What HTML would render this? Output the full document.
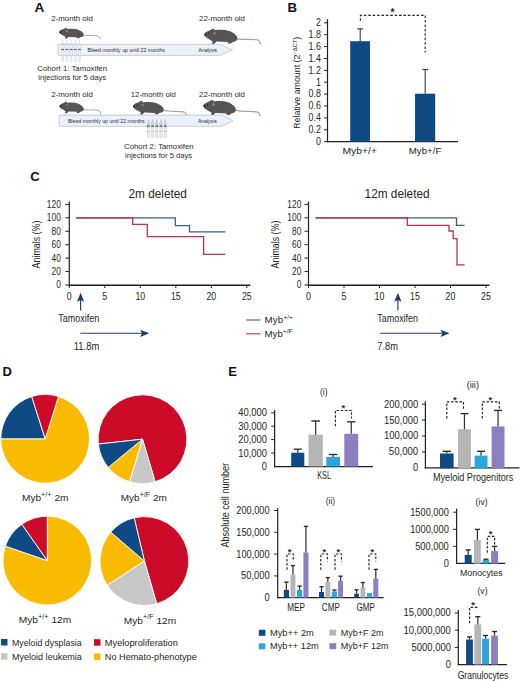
<!DOCTYPE html>
<html><head><meta charset="utf-8"><style>
html,body{margin:0;padding:0;background:#fff;}
body{width:520px;height:681px;overflow:hidden;}
svg{display:block;font-family:"Liberation Sans", sans-serif;}
</style></head><body>
<svg width="520" height="681" viewBox="0 0 520 681">
<rect width="520" height="681" fill="#fff"/>
<text x="34.40" y="11.70" font-size="13.6" text-anchor="start" fill="#111" font-weight="bold" >A</text>
<text x="51.20" y="21.00" font-size="8" text-anchor="start" fill="#2a2a2a" font-weight="normal" textLength="41.70" lengthAdjust="spacingAndGlyphs" >2-month old</text>
<text x="199.00" y="21.20" font-size="8" text-anchor="start" fill="#2a2a2a" font-weight="normal" textLength="46.00" lengthAdjust="spacingAndGlyphs" >22-month old</text>
<path d="M83.06,35.14 C88.21,35.80 94.20,35.10 98.00,36.10 Q100.20,37.10 100.20,38.90" fill="none" stroke="#b29c9c" stroke-width="0.95" stroke-linecap="round"/>
<path d="M59.30,31.78 C59.54,30.73 60.77,29.89 62.73,29.36 C63.71,29.05 64.44,28.42 65.42,28.00 C66.41,27.79 67.14,28.42 67.14,29.05 C70.33,28.63 74.49,28.52 77.67,29.57 C80.86,30.62 83.31,32.41 83.80,34.51 C83.80,36.19 82.57,37.03 80.37,37.24 L78.90,38.29 L76.69,38.29 L76.69,37.24 L68.12,36.92 L66.89,38.50 L64.69,38.50 L65.42,36.82 C64.20,35.98 62.73,35.35 61.26,34.51 C60.03,33.88 59.30,32.83 59.30,31.78 Z" fill="#585354" stroke="none" stroke-width="1" />
<ellipse cx="66.89" cy="31.15" rx="0.86" ry="1.05" fill="#8a8384"/>
<circle cx="60.03" cy="32.20" r="0.86" fill="#2a2727"/>
<circle cx="62.48" cy="31.15" r="0.49" fill="#1c1a1a"/>
<ellipse cx="74.49" cy="33.25" rx="4.90" ry="2.31" fill="#5a5556" opacity="0.6"/>
<path d="M236.50,38.90 C243.64,39.70 254.30,39.00 258.10,40.00 Q260.30,41.00 260.30,44.30" fill="none" stroke="#b29c9c" stroke-width="1.14" stroke-linecap="round"/>
<path d="M204.30,34.10 C204.63,32.60 206.29,31.40 208.95,30.65 C210.28,30.20 211.27,29.30 212.60,28.70 C213.93,28.40 214.92,29.30 214.92,30.20 C219.24,29.60 224.88,29.45 229.20,30.95 C233.52,32.45 236.84,35.00 237.50,38.00 C237.50,40.40 235.84,41.60 232.85,41.90 L230.86,43.40 L227.87,43.40 L227.87,41.90 L216.25,41.45 L214.59,43.70 L211.60,43.70 L212.60,41.30 C210.94,40.10 208.95,39.20 206.96,38.00 C205.30,37.10 204.30,35.60 204.30,34.10 Z" fill="#585354" stroke="none" stroke-width="1" />
<ellipse cx="214.59" cy="33.20" rx="1.16" ry="1.50" fill="#8a8384"/>
<circle cx="205.30" cy="34.70" r="1.16" fill="#2a2727"/>
<circle cx="208.62" cy="33.20" r="0.66" fill="#1c1a1a"/>
<ellipse cx="224.88" cy="36.20" rx="6.64" ry="3.30" fill="#5a5556" opacity="0.6"/>
<path d="M58.00,44.40 H219.50 L232.50,49.90 L219.50,55.40 H58.00 Z" fill="#ecf1f9" stroke="#b3c2da" stroke-width="0.75" />
<line x1="62.70" y1="38.70" x2="62.70" y2="43.80" stroke="#c9ced6" stroke-width="0.5" />
<rect x="61.50" y="43.8" width="2.4" height="11.4" fill="none" stroke="#c3cad6" stroke-width="0.45"/>
<rect x="61.30" y="48.9" width="2.8" height="1.2" fill="#5f6676"/>
<rect x="61.70" y="55.6" width="2.0" height="6.0" fill="#e9eaed" stroke="#d3d5da" stroke-width="0.4"/>
<line x1="66.90" y1="38.70" x2="66.90" y2="43.80" stroke="#c9ced6" stroke-width="0.5" />
<rect x="65.70" y="43.8" width="2.4" height="11.4" fill="none" stroke="#c3cad6" stroke-width="0.45"/>
<rect x="65.50" y="48.9" width="2.8" height="1.2" fill="#5f6676"/>
<rect x="65.90" y="55.6" width="2.0" height="6.0" fill="#e9eaed" stroke="#d3d5da" stroke-width="0.4"/>
<line x1="71.10" y1="38.70" x2="71.10" y2="43.80" stroke="#c9ced6" stroke-width="0.5" />
<rect x="69.90" y="43.8" width="2.4" height="11.4" fill="none" stroke="#c3cad6" stroke-width="0.45"/>
<rect x="69.70" y="48.9" width="2.8" height="1.2" fill="#5f6676"/>
<rect x="70.10" y="55.6" width="2.0" height="6.0" fill="#e9eaed" stroke="#d3d5da" stroke-width="0.4"/>
<line x1="75.30" y1="38.70" x2="75.30" y2="43.80" stroke="#c9ced6" stroke-width="0.5" />
<rect x="74.10" y="43.8" width="2.4" height="11.4" fill="none" stroke="#c3cad6" stroke-width="0.45"/>
<rect x="73.90" y="48.9" width="2.8" height="1.2" fill="#5f6676"/>
<rect x="74.30" y="55.6" width="2.0" height="6.0" fill="#e9eaed" stroke="#d3d5da" stroke-width="0.4"/>
<line x1="79.50" y1="38.70" x2="79.50" y2="43.80" stroke="#c9ced6" stroke-width="0.5" />
<rect x="78.30" y="43.8" width="2.4" height="11.4" fill="none" stroke="#c3cad6" stroke-width="0.45"/>
<rect x="78.10" y="48.9" width="2.8" height="1.2" fill="#5f6676"/>
<rect x="78.50" y="55.6" width="2.0" height="6.0" fill="#e9eaed" stroke="#d3d5da" stroke-width="0.4"/>
<text x="87.50" y="51.60" font-size="5.2" text-anchor="start" fill="#262b36" font-weight="normal" textLength="77.50" lengthAdjust="spacingAndGlyphs" >Bleed monthly up until 22 months</text>
<text x="198.60" y="51.70" font-size="5.2" text-anchor="start" fill="#262b36" font-weight="normal" textLength="18.40" lengthAdjust="spacingAndGlyphs" >Analysis</text>
<text x="37.30" y="71.40" font-size="8" text-anchor="start" fill="#2a2a2a" font-weight="normal" textLength="69.70" lengthAdjust="spacingAndGlyphs" >Cohort 1: Tamoxifen</text>
<text x="38.30" y="80.30" font-size="8" text-anchor="start" fill="#2a2a2a" font-weight="normal" textLength="67.90" lengthAdjust="spacingAndGlyphs" >injections for 5 days</text>
<text x="51.20" y="96.90" font-size="8" text-anchor="start" fill="#2a2a2a" font-weight="normal" textLength="41.70" lengthAdjust="spacingAndGlyphs" >2-month old</text>
<text x="130.70" y="96.90" font-size="8" text-anchor="start" fill="#2a2a2a" font-weight="normal" textLength="45.00" lengthAdjust="spacingAndGlyphs" >12-month old</text>
<text x="199.00" y="97.00" font-size="8" text-anchor="start" fill="#2a2a2a" font-weight="normal" textLength="46.00" lengthAdjust="spacingAndGlyphs" >22-month old</text>
<path d="M83.07,109.55 C88.36,110.30 94.70,109.60 98.50,110.60 Q100.70,111.60 100.70,113.90" fill="none" stroke="#b29c9c" stroke-width="0.95" stroke-linecap="round"/>
<path d="M59.60,105.90 C59.84,104.76 61.05,103.85 62.99,103.28 C63.96,102.94 64.68,102.26 65.65,101.80 C66.62,101.57 67.34,102.26 67.34,102.94 C70.49,102.48 74.60,102.37 77.75,103.51 C80.90,104.65 83.32,106.59 83.80,108.87 C83.80,110.69 82.59,111.60 80.41,111.83 L78.96,112.97 L76.78,112.97 L76.78,111.83 L68.31,111.49 L67.10,113.20 L64.92,113.20 L65.65,111.38 C64.44,110.46 62.99,109.78 61.54,108.87 C60.33,108.18 59.60,107.04 59.60,105.90 Z" fill="#585354" stroke="none" stroke-width="1" />
<ellipse cx="67.10" cy="105.22" rx="0.85" ry="1.14" fill="#8a8384"/>
<circle cx="60.33" cy="106.36" r="0.85" fill="#2a2727"/>
<circle cx="62.75" cy="105.22" r="0.48" fill="#1c1a1a"/>
<ellipse cx="74.60" cy="107.50" rx="4.84" ry="2.51" fill="#5a5556" opacity="0.6"/>
<path d="M162.88,110.21 C169.97,111.70 180.50,111.00 184.30,112.00 Q186.50,113.00 186.50,115.70" fill="none" stroke="#b29c9c" stroke-width="1.14" stroke-linecap="round"/>
<path d="M133.10,105.92 C133.41,104.58 134.94,103.51 137.40,102.84 C138.63,102.44 139.55,101.64 140.78,101.10 C142.00,100.83 142.92,101.64 142.92,102.44 C146.91,101.90 152.13,101.77 156.12,103.11 C160.12,104.45 163.19,106.73 163.80,109.41 C163.80,111.55 162.27,112.62 159.50,112.89 L157.66,114.23 L154.90,114.23 L154.90,112.89 L144.15,112.49 L142.62,114.50 L139.85,114.50 L140.78,112.36 C139.24,111.28 137.40,110.48 135.56,109.41 C134.02,108.60 133.10,107.26 133.10,105.92 Z" fill="#585354" stroke="none" stroke-width="1" />
<ellipse cx="142.62" cy="105.12" rx="1.07" ry="1.34" fill="#8a8384"/>
<circle cx="134.02" cy="106.46" r="1.07" fill="#2a2727"/>
<circle cx="137.09" cy="105.12" r="0.61" fill="#1c1a1a"/>
<ellipse cx="152.13" cy="107.80" rx="6.14" ry="2.95" fill="#5a5556" opacity="0.6"/>
<path d="M235.03,110.34 C242.52,111.80 254.00,111.10 257.80,112.10 Q260.00,113.10 260.00,116.00" fill="none" stroke="#b29c9c" stroke-width="1.14" stroke-linecap="round"/>
<path d="M203.50,105.47 C203.82,103.95 205.45,102.74 208.05,101.98 C209.35,101.52 210.32,100.61 211.62,100.00 C212.93,99.70 213.90,100.61 213.90,101.52 C218.12,100.91 223.65,100.76 227.88,102.28 C232.10,103.80 235.35,106.38 236.00,109.42 C236.00,111.86 234.38,113.07 231.45,113.38 L229.50,114.90 L226.57,114.90 L226.57,113.38 L215.20,112.92 L213.57,115.20 L210.65,115.20 L211.62,112.77 C210.00,111.55 208.05,110.64 206.10,109.42 C204.47,108.51 203.50,106.99 203.50,105.47 Z" fill="#585354" stroke="none" stroke-width="1" />
<ellipse cx="213.57" cy="104.56" rx="1.14" ry="1.52" fill="#8a8384"/>
<circle cx="204.47" cy="106.08" r="1.14" fill="#2a2727"/>
<circle cx="207.72" cy="104.56" r="0.65" fill="#1c1a1a"/>
<ellipse cx="223.65" cy="107.60" rx="6.50" ry="3.34" fill="#5a5556" opacity="0.6"/>
<path d="M59.20,115.10 H221.60 L233.00,120.70 L221.60,126.30 H59.20 Z" fill="#ecf1f9" stroke="#b3c2da" stroke-width="0.75" />
<path d="M148.40,119.6 L149.70,124.8 L147.10,124.8 Z" fill="#dfe6f0" stroke="#9aa6b8" stroke-width="0.45" />
<rect x="147.05" y="125.4" width="2.7" height="1.4" fill="#59606e"/>
<rect x="147.30" y="127.2" width="2.2" height="10.4" fill="#eceef1" stroke="#c2c5cb" stroke-width="0.45"/>
<line x1="147.10" y1="131.50" x2="149.70" y2="131.50" stroke="#b3b7be" stroke-width="0.8" />
<path d="M152.60,119.6 L153.90,124.8 L151.30,124.8 Z" fill="#dfe6f0" stroke="#9aa6b8" stroke-width="0.45" />
<rect x="151.25" y="125.4" width="2.7" height="1.4" fill="#59606e"/>
<rect x="151.50" y="127.2" width="2.2" height="10.4" fill="#eceef1" stroke="#c2c5cb" stroke-width="0.45"/>
<line x1="151.30" y1="131.50" x2="153.90" y2="131.50" stroke="#b3b7be" stroke-width="0.8" />
<path d="M156.80,119.6 L158.10,124.8 L155.50,124.8 Z" fill="#dfe6f0" stroke="#9aa6b8" stroke-width="0.45" />
<rect x="155.45" y="125.4" width="2.7" height="1.4" fill="#59606e"/>
<rect x="155.70" y="127.2" width="2.2" height="10.4" fill="#eceef1" stroke="#c2c5cb" stroke-width="0.45"/>
<line x1="155.50" y1="131.50" x2="158.10" y2="131.50" stroke="#b3b7be" stroke-width="0.8" />
<path d="M161.00,119.6 L162.30,124.8 L159.70,124.8 Z" fill="#dfe6f0" stroke="#9aa6b8" stroke-width="0.45" />
<rect x="159.65" y="125.4" width="2.7" height="1.4" fill="#59606e"/>
<rect x="159.90" y="127.2" width="2.2" height="10.4" fill="#eceef1" stroke="#c2c5cb" stroke-width="0.45"/>
<line x1="159.70" y1="131.50" x2="162.30" y2="131.50" stroke="#b3b7be" stroke-width="0.8" />
<path d="M165.20,119.6 L166.50,124.8 L163.90,124.8 Z" fill="#dfe6f0" stroke="#9aa6b8" stroke-width="0.45" />
<rect x="163.85" y="125.4" width="2.7" height="1.4" fill="#59606e"/>
<rect x="164.10" y="127.2" width="2.2" height="10.4" fill="#eceef1" stroke="#c2c5cb" stroke-width="0.45"/>
<line x1="163.90" y1="131.50" x2="166.50" y2="131.50" stroke="#b3b7be" stroke-width="0.8" />
<text x="67.90" y="123.30" font-size="5.2" text-anchor="start" fill="#262b36" font-weight="normal" textLength="76.70" lengthAdjust="spacingAndGlyphs" >Bleed monthly up until 22 months</text>
<text x="198.00" y="123.20" font-size="5.2" text-anchor="start" fill="#262b36" font-weight="normal" textLength="18.80" lengthAdjust="spacingAndGlyphs" >Analysis</text>
<text x="124.00" y="149.00" font-size="8" text-anchor="start" fill="#2a2a2a" font-weight="normal" textLength="69.70" lengthAdjust="spacingAndGlyphs" >Cohort 2: Tamoxifen</text>
<text x="125.00" y="158.00" font-size="8" text-anchor="start" fill="#2a2a2a" font-weight="normal" textLength="67.00" lengthAdjust="spacingAndGlyphs" >injections for 5 days</text>
<text x="287.50" y="11.70" font-size="13.2" text-anchor="start" fill="#111" font-weight="bold" >B</text>
<line x1="327.50" y1="19.30" x2="327.50" y2="142.20" stroke="#231f20" stroke-width="1.2" />
<line x1="326.90" y1="141.60" x2="458.00" y2="141.60" stroke="#231f20" stroke-width="1.2" />
<line x1="324.00" y1="141.60" x2="327.50" y2="141.60" stroke="#231f20" stroke-width="1.0" />
<text x="320.90" y="145.00" font-size="10" text-anchor="end" fill="#231f20" font-weight="normal" textLength="4.95" lengthAdjust="spacingAndGlyphs" >0</text>
<line x1="324.00" y1="129.72" x2="327.50" y2="129.72" stroke="#231f20" stroke-width="1.0" />
<text x="320.90" y="133.12" font-size="10" text-anchor="end" fill="#231f20" font-weight="normal" textLength="12.37" lengthAdjust="spacingAndGlyphs" >0.2</text>
<line x1="324.00" y1="117.84" x2="327.50" y2="117.84" stroke="#231f20" stroke-width="1.0" />
<text x="320.90" y="121.24" font-size="10" text-anchor="end" fill="#231f20" font-weight="normal" textLength="12.37" lengthAdjust="spacingAndGlyphs" >0.4</text>
<line x1="324.00" y1="105.96" x2="327.50" y2="105.96" stroke="#231f20" stroke-width="1.0" />
<text x="320.90" y="109.36" font-size="10" text-anchor="end" fill="#231f20" font-weight="normal" textLength="12.37" lengthAdjust="spacingAndGlyphs" >0.6</text>
<line x1="324.00" y1="94.08" x2="327.50" y2="94.08" stroke="#231f20" stroke-width="1.0" />
<text x="320.90" y="97.48" font-size="10" text-anchor="end" fill="#231f20" font-weight="normal" textLength="12.37" lengthAdjust="spacingAndGlyphs" >0.8</text>
<line x1="324.00" y1="82.20" x2="327.50" y2="82.20" stroke="#231f20" stroke-width="1.0" />
<text x="320.90" y="85.60" font-size="10" text-anchor="end" fill="#231f20" font-weight="normal" textLength="4.95" lengthAdjust="spacingAndGlyphs" >1</text>
<line x1="324.00" y1="70.32" x2="327.50" y2="70.32" stroke="#231f20" stroke-width="1.0" />
<text x="320.90" y="73.72" font-size="10" text-anchor="end" fill="#231f20" font-weight="normal" textLength="12.37" lengthAdjust="spacingAndGlyphs" >1.2</text>
<line x1="324.00" y1="58.44" x2="327.50" y2="58.44" stroke="#231f20" stroke-width="1.0" />
<text x="320.90" y="61.84" font-size="10" text-anchor="end" fill="#231f20" font-weight="normal" textLength="12.37" lengthAdjust="spacingAndGlyphs" >1.4</text>
<line x1="324.00" y1="46.56" x2="327.50" y2="46.56" stroke="#231f20" stroke-width="1.0" />
<text x="320.90" y="49.96" font-size="10" text-anchor="end" fill="#231f20" font-weight="normal" textLength="12.37" lengthAdjust="spacingAndGlyphs" >1.6</text>
<line x1="324.00" y1="34.68" x2="327.50" y2="34.68" stroke="#231f20" stroke-width="1.0" />
<text x="320.90" y="38.08" font-size="10" text-anchor="end" fill="#231f20" font-weight="normal" textLength="12.37" lengthAdjust="spacingAndGlyphs" >1.8</text>
<line x1="324.00" y1="22.80" x2="327.50" y2="22.80" stroke="#231f20" stroke-width="1.0" />
<text x="320.90" y="26.20" font-size="10" text-anchor="end" fill="#231f20" font-weight="normal" textLength="4.95" lengthAdjust="spacingAndGlyphs" >2</text>
<rect x="350.20" y="41.21" width="19.80" height="100.39" fill="#104a84" />
<line x1="360.20" y1="41.21" x2="360.20" y2="28.90" stroke="#3a3a3a" stroke-width="1.1" />
<line x1="357.20" y1="28.90" x2="363.00" y2="28.90" stroke="#3a3a3a" stroke-width="1.2" />
<rect x="415.00" y="93.70" width="20.20" height="47.90" fill="#104a84" />
<line x1="425.20" y1="93.70" x2="425.20" y2="69.50" stroke="#3a3a3a" stroke-width="1.1" />
<line x1="422.30" y1="69.50" x2="428.10" y2="69.50" stroke="#3a3a3a" stroke-width="1.2" />
<path d="M360.4,20.8 V15.4 H425.2 V52.5" fill="none" stroke="#2a2a2a" stroke-width="1.15" stroke-dasharray="2.6,1.8"/>
<text x="392.60" y="16.28" font-size="10.5" text-anchor="middle" fill="#2a2a2a" font-weight="bold" >*</text>
<text x="342.50" y="153.80" font-size="9" text-anchor="start" fill="#231f20" font-weight="normal" textLength="34.50" lengthAdjust="spacingAndGlyphs" >Myb+/+</text>
<text x="408.80" y="153.80" font-size="9" text-anchor="start" fill="#231f20" font-weight="normal" textLength="32.50" lengthAdjust="spacingAndGlyphs" >Myb+/F</text>
<text transform="translate(300.3,128.8) rotate(-90)" font-size="9.6" fill="#231f20" textLength="92" lengthAdjust="spacingAndGlyphs">Relative amount (2<tspan dy="-3.2" font-size="6.2">−ΔCT</tspan><tspan dy="3.2">)</tspan></text>
<text x="30.20" y="180.60" font-size="13.2" text-anchor="start" fill="#111" font-weight="bold" >C</text>
<line x1="69.30" y1="201.50" x2="69.30" y2="285.60" stroke="#231f20" stroke-width="1.2" />
<line x1="68.70" y1="285.15" x2="250.30" y2="285.15" stroke="#231f20" stroke-width="1.45" />
<line x1="65.30" y1="285.00" x2="69.30" y2="285.00" stroke="#231f20" stroke-width="1.0" />
<text x="60.80" y="288.40" font-size="10" text-anchor="end" fill="#231f20" font-weight="normal" textLength="4.64" lengthAdjust="spacingAndGlyphs" >0</text>
<line x1="65.30" y1="271.57" x2="69.30" y2="271.57" stroke="#231f20" stroke-width="1.0" />
<text x="60.80" y="274.97" font-size="10" text-anchor="end" fill="#231f20" font-weight="normal" textLength="9.29" lengthAdjust="spacingAndGlyphs" >20</text>
<line x1="65.30" y1="258.13" x2="69.30" y2="258.13" stroke="#231f20" stroke-width="1.0" />
<text x="60.80" y="261.53" font-size="10" text-anchor="end" fill="#231f20" font-weight="normal" textLength="9.29" lengthAdjust="spacingAndGlyphs" >40</text>
<line x1="65.30" y1="244.70" x2="69.30" y2="244.70" stroke="#231f20" stroke-width="1.0" />
<text x="60.80" y="248.10" font-size="10" text-anchor="end" fill="#231f20" font-weight="normal" textLength="9.29" lengthAdjust="spacingAndGlyphs" >60</text>
<line x1="65.30" y1="231.26" x2="69.30" y2="231.26" stroke="#231f20" stroke-width="1.0" />
<text x="60.80" y="234.66" font-size="10" text-anchor="end" fill="#231f20" font-weight="normal" textLength="9.29" lengthAdjust="spacingAndGlyphs" >80</text>
<line x1="65.30" y1="217.83" x2="69.30" y2="217.83" stroke="#231f20" stroke-width="1.0" />
<text x="60.80" y="221.23" font-size="10" text-anchor="end" fill="#231f20" font-weight="normal" textLength="13.93" lengthAdjust="spacingAndGlyphs" >100</text>
<line x1="65.30" y1="204.40" x2="69.30" y2="204.40" stroke="#231f20" stroke-width="1.0" />
<text x="60.80" y="207.80" font-size="10" text-anchor="end" fill="#231f20" font-weight="normal" textLength="13.93" lengthAdjust="spacingAndGlyphs" >120</text>
<line x1="69.30" y1="285.00" x2="69.30" y2="288.00" stroke="#231f20" stroke-width="1.0" />
<text x="69.30" y="300.40" font-size="10" text-anchor="middle" fill="#231f20" font-weight="normal" textLength="4.89" lengthAdjust="spacingAndGlyphs" >0</text>
<line x1="104.80" y1="285.00" x2="104.80" y2="288.00" stroke="#231f20" stroke-width="1.0" />
<text x="104.80" y="300.40" font-size="10" text-anchor="middle" fill="#231f20" font-weight="normal" textLength="4.89" lengthAdjust="spacingAndGlyphs" >5</text>
<line x1="140.30" y1="285.00" x2="140.30" y2="288.00" stroke="#231f20" stroke-width="1.0" />
<text x="140.30" y="300.40" font-size="10" text-anchor="middle" fill="#231f20" font-weight="normal" textLength="9.79" lengthAdjust="spacingAndGlyphs" >10</text>
<line x1="175.80" y1="285.00" x2="175.80" y2="288.00" stroke="#231f20" stroke-width="1.0" />
<text x="175.80" y="300.40" font-size="10" text-anchor="middle" fill="#231f20" font-weight="normal" textLength="9.79" lengthAdjust="spacingAndGlyphs" >15</text>
<line x1="211.30" y1="285.00" x2="211.30" y2="288.00" stroke="#231f20" stroke-width="1.0" />
<text x="211.30" y="300.40" font-size="10" text-anchor="middle" fill="#231f20" font-weight="normal" textLength="9.79" lengthAdjust="spacingAndGlyphs" >20</text>
<line x1="246.80" y1="285.00" x2="246.80" y2="288.00" stroke="#231f20" stroke-width="1.0" />
<text x="246.80" y="300.40" font-size="10" text-anchor="middle" fill="#231f20" font-weight="normal" textLength="9.79" lengthAdjust="spacingAndGlyphs" >25</text>
<text x="128.50" y="197.60" font-size="12" text-anchor="start" fill="#231f20" font-weight="normal" textLength="58.40" lengthAdjust="spacingAndGlyphs" >2m deleted</text>
<text transform="translate(39.80,268.4) rotate(-90)" font-size="10" fill="#231f20" textLength="47.8" lengthAdjust="spacingAndGlyphs">Animals (%)</text>
<line x1="308.50" y1="201.50" x2="308.50" y2="285.60" stroke="#231f20" stroke-width="1.2" />
<line x1="307.90" y1="285.15" x2="489.50" y2="285.15" stroke="#231f20" stroke-width="1.45" />
<line x1="304.50" y1="285.00" x2="308.50" y2="285.00" stroke="#231f20" stroke-width="1.0" />
<text x="301.30" y="288.40" font-size="10" text-anchor="end" fill="#231f20" font-weight="normal" textLength="4.64" lengthAdjust="spacingAndGlyphs" >0</text>
<line x1="304.50" y1="271.57" x2="308.50" y2="271.57" stroke="#231f20" stroke-width="1.0" />
<text x="301.30" y="274.97" font-size="10" text-anchor="end" fill="#231f20" font-weight="normal" textLength="9.29" lengthAdjust="spacingAndGlyphs" >20</text>
<line x1="304.50" y1="258.13" x2="308.50" y2="258.13" stroke="#231f20" stroke-width="1.0" />
<text x="301.30" y="261.53" font-size="10" text-anchor="end" fill="#231f20" font-weight="normal" textLength="9.29" lengthAdjust="spacingAndGlyphs" >40</text>
<line x1="304.50" y1="244.70" x2="308.50" y2="244.70" stroke="#231f20" stroke-width="1.0" />
<text x="301.30" y="248.10" font-size="10" text-anchor="end" fill="#231f20" font-weight="normal" textLength="9.29" lengthAdjust="spacingAndGlyphs" >60</text>
<line x1="304.50" y1="231.26" x2="308.50" y2="231.26" stroke="#231f20" stroke-width="1.0" />
<text x="301.30" y="234.66" font-size="10" text-anchor="end" fill="#231f20" font-weight="normal" textLength="9.29" lengthAdjust="spacingAndGlyphs" >80</text>
<line x1="304.50" y1="217.83" x2="308.50" y2="217.83" stroke="#231f20" stroke-width="1.0" />
<text x="301.30" y="221.23" font-size="10" text-anchor="end" fill="#231f20" font-weight="normal" textLength="13.93" lengthAdjust="spacingAndGlyphs" >100</text>
<line x1="304.50" y1="204.40" x2="308.50" y2="204.40" stroke="#231f20" stroke-width="1.0" />
<text x="301.30" y="207.80" font-size="10" text-anchor="end" fill="#231f20" font-weight="normal" textLength="13.93" lengthAdjust="spacingAndGlyphs" >120</text>
<line x1="308.50" y1="285.00" x2="308.50" y2="288.00" stroke="#231f20" stroke-width="1.0" />
<text x="308.50" y="300.40" font-size="10" text-anchor="middle" fill="#231f20" font-weight="normal" textLength="4.89" lengthAdjust="spacingAndGlyphs" >0</text>
<line x1="344.00" y1="285.00" x2="344.00" y2="288.00" stroke="#231f20" stroke-width="1.0" />
<text x="344.00" y="300.40" font-size="10" text-anchor="middle" fill="#231f20" font-weight="normal" textLength="4.89" lengthAdjust="spacingAndGlyphs" >5</text>
<line x1="379.50" y1="285.00" x2="379.50" y2="288.00" stroke="#231f20" stroke-width="1.0" />
<text x="379.50" y="300.40" font-size="10" text-anchor="middle" fill="#231f20" font-weight="normal" textLength="9.79" lengthAdjust="spacingAndGlyphs" >10</text>
<line x1="415.00" y1="285.00" x2="415.00" y2="288.00" stroke="#231f20" stroke-width="1.0" />
<text x="415.00" y="300.40" font-size="10" text-anchor="middle" fill="#231f20" font-weight="normal" textLength="9.79" lengthAdjust="spacingAndGlyphs" >15</text>
<line x1="450.50" y1="285.00" x2="450.50" y2="288.00" stroke="#231f20" stroke-width="1.0" />
<text x="450.50" y="300.40" font-size="10" text-anchor="middle" fill="#231f20" font-weight="normal" textLength="9.79" lengthAdjust="spacingAndGlyphs" >20</text>
<line x1="486.00" y1="285.00" x2="486.00" y2="288.00" stroke="#231f20" stroke-width="1.0" />
<text x="486.00" y="300.40" font-size="10" text-anchor="middle" fill="#231f20" font-weight="normal" textLength="9.79" lengthAdjust="spacingAndGlyphs" >25</text>
<text x="364.60" y="197.60" font-size="12" text-anchor="start" fill="#231f20" font-weight="normal" textLength="65.00" lengthAdjust="spacingAndGlyphs" >12m deleted</text>
<text transform="translate(279.00,268.4) rotate(-90)" font-size="10" fill="#231f20" textLength="47.8" lengthAdjust="spacingAndGlyphs">Animals (%)</text>
<path d="M75.9,217.8 H175.3 V225.6 H189.5 V231.8 H225.3" fill="none" stroke="#3a5f88" stroke-width="1.3" />
<path d="M75.9,217.8 H132.7 V224.3 H147.3 V236.7 H203.6 V254.4 H225.3" fill="none" stroke="#bb3150" stroke-width="1.3" />
<path d="M315.6,217.8 H456.5 V225.3 H464.6" fill="none" stroke="#3a5f88" stroke-width="1.3" />
<path d="M315.6,217.8 H407.3 V225.4 H449.0 V231.0 H453.2 V238.6 H457.0 V264.9 H464.6" fill="none" stroke="#bb3150" stroke-width="1.3" />
<line x1="80.60" y1="310.50" x2="80.60" y2="297.80" stroke="#1a4068" stroke-width="1.15" />
<path d="M80.60,292.80 L84.20,301.80 L80.60,300.00 L77.00,301.80 Z" fill="#1a4068" stroke="none" stroke-width="1" />
<line x1="80.30" y1="333.30" x2="144.20" y2="333.30" stroke="#1a4068" stroke-width="1.1" />
<path d="M149.20,333.30 L140.20,329.70 L142.00,333.30 L140.20,336.90 Z" fill="#1a4068" stroke="none" stroke-width="1" />
<text x="58.20" y="321.80" font-size="10.6" text-anchor="start" fill="#231f20" font-weight="normal" textLength="41.20" lengthAdjust="spacingAndGlyphs" >Tamoxifen</text>
<text x="73.80" y="350.20" font-size="11.6" text-anchor="start" fill="#231f20" font-weight="normal" textLength="25.60" lengthAdjust="spacingAndGlyphs" >11.8m</text>
<line x1="397.90" y1="310.50" x2="397.90" y2="297.80" stroke="#1a4068" stroke-width="1.15" />
<path d="M397.90,292.80 L401.50,301.80 L397.90,300.00 L394.30,301.80 Z" fill="#1a4068" stroke="none" stroke-width="1" />
<line x1="380.20" y1="333.30" x2="444.60" y2="333.30" stroke="#1a4068" stroke-width="1.1" />
<path d="M449.60,333.30 L440.60,329.70 L442.40,333.30 L440.60,336.90 Z" fill="#1a4068" stroke="none" stroke-width="1" />
<text x="377.30" y="321.90" font-size="10.6" text-anchor="start" fill="#231f20" font-weight="normal" textLength="40.70" lengthAdjust="spacingAndGlyphs" >Tamoxifen</text>
<text x="377.30" y="349.70" font-size="11.6" text-anchor="start" fill="#231f20" font-weight="normal" textLength="20.60" lengthAdjust="spacingAndGlyphs" >7.8m</text>
<line x1="246.20" y1="320.00" x2="260.50" y2="320.00" stroke="#3a5f88" stroke-width="1.1" />
<line x1="246.20" y1="333.80" x2="260.50" y2="333.80" stroke="#bb3150" stroke-width="1.1" />
<text x="264.6" y="322.9" font-size="8.4" fill="#231f20" textLength="28.4" lengthAdjust="spacingAndGlyphs">Myb<tspan dy="-4" font-size="5.8">+/+</tspan></text>
<text x="264.6" y="337.0" font-size="8.4" fill="#231f20" textLength="28.0" lengthAdjust="spacingAndGlyphs">Myb<tspan dy="-4" font-size="5.8">+/F</tspan></text>
<text x="2.60" y="375.60" font-size="13" text-anchor="start" fill="#111" font-weight="bold" >D</text>
<path d="M45.20,438.80 L58.55,396.45 A44.4,44.4 0 1 1 0.80,438.80 Z" fill="#f8bb00" stroke="#fff" stroke-width="0.9" stroke-linejoin="round"/>
<path d="M45.20,438.80 L0.80,438.80 A44.4,44.4 0 0 1 31.70,396.50 Z" fill="#0f4a86" stroke="#fff" stroke-width="0.9" stroke-linejoin="round"/>
<path d="M45.20,438.80 L31.70,396.50 A44.4,44.4 0 0 1 58.55,396.45 Z" fill="#cc0b28" stroke="#fff" stroke-width="0.9" stroke-linejoin="round"/>
<path d="M142.50,439.20 L98.37,444.07 A44.4,44.4 0 1 1 155.11,481.77 Z" fill="#cc0b28" stroke="#fff" stroke-width="0.9" stroke-linejoin="round"/>
<path d="M142.50,439.20 L155.11,481.77 A44.4,44.4 0 0 1 129.52,481.66 Z" fill="#c7c7c7" stroke="#fff" stroke-width="0.9" stroke-linejoin="round"/>
<path d="M142.50,439.20 L129.52,481.66 A44.4,44.4 0 0 1 108.24,467.44 Z" fill="#f8bb00" stroke="#fff" stroke-width="0.9" stroke-linejoin="round"/>
<path d="M142.50,439.20 L108.24,467.44 A44.4,44.4 0 0 1 98.37,444.07 Z" fill="#0f4a86" stroke="#fff" stroke-width="0.9" stroke-linejoin="round"/>
<path d="M47.30,560.60 L47.30,516.20 A44.4,44.4 0 1 1 5.32,546.14 Z" fill="#f8bb00" stroke="#fff" stroke-width="0.9" stroke-linejoin="round"/>
<path d="M47.30,560.60 L5.32,546.14 A44.4,44.4 0 0 1 21.83,524.23 Z" fill="#0f4a86" stroke="#fff" stroke-width="0.9" stroke-linejoin="round"/>
<path d="M47.30,560.60 L21.83,524.23 A44.4,44.4 0 0 1 47.30,516.20 Z" fill="#cc0b28" stroke="#fff" stroke-width="0.9" stroke-linejoin="round"/>
<path d="M144.40,561.00 L134.19,517.79 A44.4,44.4 0 0 1 156.64,603.68 Z" fill="#cc0b28" stroke="#fff" stroke-width="0.9" stroke-linejoin="round"/>
<path d="M144.40,561.00 L156.64,603.68 A44.4,44.4 0 0 1 107.16,585.18 Z" fill="#c7c7c7" stroke="#fff" stroke-width="0.9" stroke-linejoin="round"/>
<path d="M144.40,561.00 L107.16,585.18 A44.4,44.4 0 0 1 110.69,532.11 Z" fill="#f8bb00" stroke="#fff" stroke-width="0.9" stroke-linejoin="round"/>
<path d="M144.40,561.00 L110.69,532.11 A44.4,44.4 0 0 1 134.19,517.79 Z" fill="#0f4a86" stroke="#fff" stroke-width="0.9" stroke-linejoin="round"/>
<text x="22.00" y="501.20" font-size="9.2" fill="#231f20" textLength="46.50" lengthAdjust="spacingAndGlyphs">Myb<tspan dy="-4.4" font-size="6.6">+/+</tspan><tspan dy="4.4"> 2m</tspan></text>
<text x="120.80" y="501.20" font-size="9.2" fill="#231f20" textLength="46.10" lengthAdjust="spacingAndGlyphs">Myb<tspan dy="-4.4" font-size="6.6">+/F</tspan><tspan dy="4.4"> 2m</tspan></text>
<text x="18.80" y="623.20" font-size="9.2" fill="#231f20" textLength="52.40" lengthAdjust="spacingAndGlyphs">Myb<tspan dy="-4.4" font-size="6.6">+/+</tspan><tspan dy="4.4"> 12m</tspan></text>
<text x="123.80" y="623.50" font-size="9.2" fill="#231f20" textLength="52.40" lengthAdjust="spacingAndGlyphs">Myb<tspan dy="-4.4" font-size="6.6">+/F</tspan><tspan dy="4.4"> 12m</tspan></text>
<rect x="1.00" y="639.00" width="6.50" height="6.50" fill="#0f4a86" />
<rect x="1.00" y="653.20" width="6.50" height="6.50" fill="#c7c7c7" />
<rect x="94.00" y="639.20" width="6.50" height="6.50" fill="#cc0b28" />
<rect x="94.00" y="653.40" width="6.50" height="6.50" fill="#f8bb00" />
<text x="11.90" y="645.60" font-size="9.5" text-anchor="start" fill="#231f20" font-weight="normal" textLength="69.80" lengthAdjust="spacingAndGlyphs" >Myeloid dysplasia</text>
<text x="11.90" y="659.60" font-size="9.5" text-anchor="start" fill="#231f20" font-weight="normal" textLength="70.00" lengthAdjust="spacingAndGlyphs" >Myeloid leukemia</text>
<text x="104.80" y="645.60" font-size="9.5" text-anchor="start" fill="#231f20" font-weight="normal" textLength="73.00" lengthAdjust="spacingAndGlyphs" >Myeloproliferation</text>
<text x="104.80" y="659.50" font-size="9.5" text-anchor="start" fill="#231f20" font-weight="normal" textLength="92.00" lengthAdjust="spacingAndGlyphs" >No Hemato-phenotype</text>
<text x="228.30" y="375.50" font-size="13" text-anchor="start" fill="#111" font-weight="bold" >E</text>
<text transform="translate(229.3,547.5) rotate(-90)" font-size="10.2" fill="#231f20" textLength="84.6" lengthAdjust="spacingAndGlyphs">Absolute cell number</text>
<text x="320.00" y="394.80" font-size="8.4" text-anchor="start" fill="#231f20" font-weight="normal" textLength="7.60" lengthAdjust="spacingAndGlyphs" >(i)</text>
<line x1="274.60" y1="410.00" x2="274.60" y2="467.20" stroke="#231f20" stroke-width="1.2" />
<line x1="274.00" y1="466.60" x2="373.00" y2="466.60" stroke="#231f20" stroke-width="1.25" />
<line x1="271.10" y1="412.80" x2="274.60" y2="412.80" stroke="#231f20" stroke-width="1.0" />
<text x="267.00" y="416.20" font-size="10" text-anchor="end" fill="#231f20" font-weight="normal" textLength="28.80" lengthAdjust="spacingAndGlyphs" >40,000</text>
<line x1="271.10" y1="426.20" x2="274.60" y2="426.20" stroke="#231f20" stroke-width="1.0" />
<text x="267.00" y="429.60" font-size="10" text-anchor="end" fill="#231f20" font-weight="normal" textLength="28.80" lengthAdjust="spacingAndGlyphs" >30,000</text>
<line x1="271.10" y1="439.60" x2="274.60" y2="439.60" stroke="#231f20" stroke-width="1.0" />
<text x="267.00" y="443.00" font-size="10" text-anchor="end" fill="#231f20" font-weight="normal" textLength="28.80" lengthAdjust="spacingAndGlyphs" >20,000</text>
<line x1="271.10" y1="453.10" x2="274.60" y2="453.10" stroke="#231f20" stroke-width="1.0" />
<text x="267.00" y="456.50" font-size="10" text-anchor="end" fill="#231f20" font-weight="normal" textLength="28.80" lengthAdjust="spacingAndGlyphs" >10,000</text>
<text x="267.00" y="470.00" font-size="10" text-anchor="end" fill="#231f20" font-weight="normal" textLength="5.17" lengthAdjust="spacingAndGlyphs" >0</text>
<rect x="291.20" y="452.70" width="13.10" height="13.80" fill="#104a84" />
<line x1="297.75" y1="452.70" x2="297.75" y2="449.20" stroke="#333" stroke-width="1.25" />
<line x1="293.71" y1="449.20" x2="301.79" y2="449.20" stroke="#2a2a2a" stroke-width="1.35" />
<rect x="308.50" y="434.70" width="14.30" height="31.80" fill="#b5b5b5" />
<line x1="315.65" y1="434.70" x2="315.65" y2="421.00" stroke="#333" stroke-width="1.25" />
<line x1="311.32" y1="421.00" x2="319.98" y2="421.00" stroke="#2a2a2a" stroke-width="1.35" />
<rect x="326.30" y="456.90" width="13.70" height="9.60" fill="#2aa6dc" />
<line x1="333.15" y1="456.90" x2="333.15" y2="454.50" stroke="#333" stroke-width="1.25" />
<line x1="328.96" y1="454.50" x2="337.34" y2="454.50" stroke="#2a2a2a" stroke-width="1.35" />
<rect x="344.30" y="433.80" width="13.90" height="32.70" fill="#8c7ec0" />
<line x1="351.25" y1="433.80" x2="351.25" y2="421.80" stroke="#333" stroke-width="1.25" />
<line x1="347.01" y1="421.80" x2="355.49" y2="421.80" stroke="#2a2a2a" stroke-width="1.35" />
<path d="M335.40,426.20 V410.50 H351.50 V418.50" fill="none" stroke="#222" stroke-width="1.15" stroke-dasharray="2.5,1.7"/>
<text x="343.30" y="410.92" font-size="9.5" text-anchor="middle" fill="#2a2a2a" font-weight="bold" >*</text>
<text x="317.20" y="478.80" font-size="10.2" text-anchor="start" fill="#231f20" font-weight="normal" textLength="13.80" lengthAdjust="spacingAndGlyphs" >KSL</text>
<text x="325.80" y="503.90" font-size="8.4" text-anchor="start" fill="#231f20" font-weight="normal" textLength="9.20" lengthAdjust="spacingAndGlyphs" >(ii)</text>
<line x1="277.70" y1="507.90" x2="277.70" y2="598.30" stroke="#231f20" stroke-width="1.2" />
<line x1="277.10" y1="597.70" x2="383.60" y2="597.70" stroke="#231f20" stroke-width="1.25" />
<line x1="274.20" y1="510.50" x2="277.70" y2="510.50" stroke="#231f20" stroke-width="1.0" />
<text x="269.60" y="513.90" font-size="10" text-anchor="end" fill="#231f20" font-weight="normal" textLength="33.30" lengthAdjust="spacingAndGlyphs" >200,000</text>
<line x1="274.20" y1="532.30" x2="277.70" y2="532.30" stroke="#231f20" stroke-width="1.0" />
<text x="269.60" y="535.70" font-size="10" text-anchor="end" fill="#231f20" font-weight="normal" textLength="33.30" lengthAdjust="spacingAndGlyphs" >150,000</text>
<line x1="274.20" y1="554.10" x2="277.70" y2="554.10" stroke="#231f20" stroke-width="1.0" />
<text x="269.60" y="557.50" font-size="10" text-anchor="end" fill="#231f20" font-weight="normal" textLength="33.30" lengthAdjust="spacingAndGlyphs" >100,000</text>
<line x1="274.20" y1="575.90" x2="277.70" y2="575.90" stroke="#231f20" stroke-width="1.0" />
<text x="269.60" y="579.30" font-size="10" text-anchor="end" fill="#231f20" font-weight="normal" textLength="28.60" lengthAdjust="spacingAndGlyphs" >50,000</text>
<text x="269.60" y="601.10" font-size="10" text-anchor="end" fill="#231f20" font-weight="normal" textLength="5.17" lengthAdjust="spacingAndGlyphs" >0</text>
<rect x="283.80" y="589.90" width="5.20" height="7.70" fill="#104a84" />
<line x1="286.40" y1="589.90" x2="286.40" y2="582.10" stroke="#333" stroke-width="1.25" />
<line x1="284.25" y1="582.10" x2="288.55" y2="582.10" stroke="#2a2a2a" stroke-width="1.35" />
<rect x="290.50" y="574.50" width="4.90" height="23.10" fill="#b5b5b5" />
<line x1="292.95" y1="574.50" x2="292.95" y2="565.60" stroke="#333" stroke-width="1.25" />
<line x1="290.87" y1="565.60" x2="295.03" y2="565.60" stroke="#2a2a2a" stroke-width="1.35" />
<rect x="297.00" y="589.90" width="5.20" height="7.70" fill="#2aa6dc" />
<line x1="299.60" y1="589.90" x2="299.60" y2="586.10" stroke="#333" stroke-width="1.25" />
<line x1="297.45" y1="586.10" x2="301.75" y2="586.10" stroke="#2a2a2a" stroke-width="1.35" />
<rect x="303.40" y="552.50" width="5.10" height="45.10" fill="#8c7ec0" />
<line x1="305.95" y1="552.50" x2="305.95" y2="526.40" stroke="#333" stroke-width="1.25" />
<line x1="303.83" y1="526.40" x2="308.07" y2="526.40" stroke="#2a2a2a" stroke-width="1.35" />
<rect x="319.00" y="592.00" width="5.00" height="5.60" fill="#104a84" />
<line x1="321.50" y1="592.00" x2="321.50" y2="586.70" stroke="#333" stroke-width="1.25" />
<line x1="319.40" y1="586.70" x2="323.60" y2="586.70" stroke="#2a2a2a" stroke-width="1.35" />
<rect x="325.40" y="582.00" width="4.90" height="15.60" fill="#b5b5b5" />
<line x1="327.85" y1="582.00" x2="327.85" y2="577.60" stroke="#333" stroke-width="1.25" />
<line x1="325.77" y1="577.60" x2="329.93" y2="577.60" stroke="#2a2a2a" stroke-width="1.35" />
<rect x="331.80" y="591.60" width="5.20" height="6.00" fill="#2aa6dc" />
<line x1="334.40" y1="591.60" x2="334.40" y2="590.00" stroke="#333" stroke-width="1.25" />
<line x1="332.25" y1="590.00" x2="336.55" y2="590.00" stroke="#2a2a2a" stroke-width="1.35" />
<rect x="338.10" y="580.80" width="4.90" height="16.80" fill="#8c7ec0" />
<line x1="340.55" y1="580.80" x2="340.55" y2="576.20" stroke="#333" stroke-width="1.25" />
<line x1="338.47" y1="576.20" x2="342.63" y2="576.20" stroke="#2a2a2a" stroke-width="1.35" />
<rect x="354.20" y="593.70" width="4.70" height="3.90" fill="#104a84" />
<line x1="356.55" y1="593.70" x2="356.55" y2="589.90" stroke="#333" stroke-width="1.25" />
<line x1="354.52" y1="589.90" x2="358.58" y2="589.90" stroke="#2a2a2a" stroke-width="1.35" />
<rect x="360.50" y="587.40" width="4.70" height="10.20" fill="#b5b5b5" />
<line x1="362.85" y1="587.40" x2="362.85" y2="582.50" stroke="#333" stroke-width="1.25" />
<line x1="360.82" y1="582.50" x2="364.88" y2="582.50" stroke="#2a2a2a" stroke-width="1.35" />
<rect x="366.90" y="593.10" width="5.10" height="4.50" fill="#2aa6dc" />
<rect x="373.30" y="578.70" width="5.00" height="18.90" fill="#8c7ec0" />
<line x1="375.80" y1="578.70" x2="375.80" y2="569.40" stroke="#333" stroke-width="1.25" />
<line x1="373.70" y1="569.40" x2="377.90" y2="569.40" stroke="#2a2a2a" stroke-width="1.35" />
<path d="M287.00,569.80 V554.00 H293.30 V561.50" fill="none" stroke="#222" stroke-width="1.15" stroke-dasharray="2.5,1.7"/>
<text x="289.70" y="555.12" font-size="9.5" text-anchor="middle" fill="#2a2a2a" font-weight="bold" >*</text>
<path d="M320.80,569.80 V554.00 H327.50 V561.50" fill="none" stroke="#222" stroke-width="1.15" stroke-dasharray="2.5,1.7"/>
<text x="324.30" y="555.12" font-size="9.5" text-anchor="middle" fill="#2a2a2a" font-weight="bold" >*</text>
<path d="M335.00,569.80 V554.00 H341.50 V561.50" fill="none" stroke="#222" stroke-width="1.15" stroke-dasharray="2.5,1.7"/>
<text x="338.30" y="555.12" font-size="9.5" text-anchor="middle" fill="#2a2a2a" font-weight="bold" >*</text>
<path d="M369.00,569.80 V554.00 H375.80 V561.50" fill="none" stroke="#222" stroke-width="1.15" stroke-dasharray="2.5,1.7"/>
<text x="372.30" y="555.12" font-size="9.5" text-anchor="middle" fill="#2a2a2a" font-weight="bold" >*</text>
<text x="287.30" y="611.00" font-size="10.2" text-anchor="start" fill="#231f20" font-weight="normal" textLength="17.60" lengthAdjust="spacingAndGlyphs" >MEP</text>
<text x="321.80" y="611.00" font-size="10.2" text-anchor="start" fill="#231f20" font-weight="normal" textLength="18.00" lengthAdjust="spacingAndGlyphs" >CMP</text>
<text x="356.40" y="611.00" font-size="10.2" text-anchor="start" fill="#231f20" font-weight="normal" textLength="18.40" lengthAdjust="spacingAndGlyphs" >GMP</text>
<text x="466.70" y="388.20" font-size="8.4" text-anchor="start" fill="#231f20" font-weight="normal" textLength="12.30" lengthAdjust="spacingAndGlyphs" >(iii)</text>
<line x1="425.40" y1="401.20" x2="425.40" y2="468.50" stroke="#231f20" stroke-width="1.2" />
<line x1="424.80" y1="467.90" x2="519.50" y2="467.90" stroke="#231f20" stroke-width="1.25" />
<line x1="421.90" y1="404.20" x2="425.40" y2="404.20" stroke="#231f20" stroke-width="1.0" />
<text x="418.20" y="407.60" font-size="10" text-anchor="end" fill="#231f20" font-weight="normal" textLength="34.20" lengthAdjust="spacingAndGlyphs" >200,000</text>
<line x1="421.90" y1="420.10" x2="425.40" y2="420.10" stroke="#231f20" stroke-width="1.0" />
<text x="418.20" y="423.50" font-size="10" text-anchor="end" fill="#231f20" font-weight="normal" textLength="34.20" lengthAdjust="spacingAndGlyphs" >150,000</text>
<line x1="421.90" y1="436.00" x2="425.40" y2="436.00" stroke="#231f20" stroke-width="1.0" />
<text x="418.20" y="439.40" font-size="10" text-anchor="end" fill="#231f20" font-weight="normal" textLength="34.20" lengthAdjust="spacingAndGlyphs" >100,000</text>
<line x1="421.90" y1="452.00" x2="425.40" y2="452.00" stroke="#231f20" stroke-width="1.0" />
<text x="418.20" y="455.40" font-size="10" text-anchor="end" fill="#231f20" font-weight="normal" textLength="29.40" lengthAdjust="spacingAndGlyphs" >50,000</text>
<text x="418.20" y="471.30" font-size="10" text-anchor="end" fill="#231f20" font-weight="normal" textLength="5.17" lengthAdjust="spacingAndGlyphs" >0</text>
<rect x="440.00" y="453.50" width="13.60" height="14.80" fill="#104a84" />
<line x1="446.80" y1="453.50" x2="446.80" y2="451.30" stroke="#333" stroke-width="1.25" />
<line x1="442.64" y1="451.30" x2="450.96" y2="451.30" stroke="#2a2a2a" stroke-width="1.35" />
<rect x="458.00" y="429.20" width="12.90" height="39.10" fill="#b5b5b5" />
<line x1="464.45" y1="429.20" x2="464.45" y2="413.60" stroke="#333" stroke-width="1.25" />
<line x1="460.45" y1="413.60" x2="468.45" y2="413.60" stroke="#2a2a2a" stroke-width="1.35" />
<rect x="474.60" y="455.60" width="12.90" height="12.70" fill="#2aa6dc" />
<line x1="481.05" y1="455.60" x2="481.05" y2="451.30" stroke="#333" stroke-width="1.25" />
<line x1="477.05" y1="451.30" x2="485.05" y2="451.30" stroke="#2a2a2a" stroke-width="1.35" />
<rect x="491.60" y="426.50" width="12.90" height="41.80" fill="#8c7ec0" />
<line x1="498.05" y1="426.50" x2="498.05" y2="410.40" stroke="#333" stroke-width="1.25" />
<line x1="494.05" y1="410.40" x2="502.05" y2="410.40" stroke="#2a2a2a" stroke-width="1.35" />
<path d="M446.80,418.50 V401.80 H463.50 V409.00" fill="none" stroke="#222" stroke-width="1.15" stroke-dasharray="2.5,1.7"/>
<text x="454.90" y="402.72" font-size="9.5" text-anchor="middle" fill="#2a2a2a" font-weight="bold" >*</text>
<path d="M482.30,418.50 V401.80 H499.30 V409.00" fill="none" stroke="#222" stroke-width="1.15" stroke-dasharray="2.5,1.7"/>
<text x="490.40" y="402.72" font-size="9.5" text-anchor="middle" fill="#2a2a2a" font-weight="bold" >*</text>
<text x="433.00" y="481.20" font-size="10.4" text-anchor="start" fill="#231f20" font-weight="normal" textLength="80.30" lengthAdjust="spacingAndGlyphs" >Myeloid Progenitors</text>
<text x="475.60" y="505.00" font-size="8.4" text-anchor="start" fill="#231f20" font-weight="normal" textLength="12.10" lengthAdjust="spacingAndGlyphs" >(iv)</text>
<line x1="456.60" y1="508.80" x2="456.60" y2="564.00" stroke="#231f20" stroke-width="1.2" />
<line x1="456.00" y1="563.40" x2="505.20" y2="563.40" stroke="#231f20" stroke-width="1.25" />
<line x1="453.10" y1="512.20" x2="456.60" y2="512.20" stroke="#231f20" stroke-width="1.0" />
<text x="448.80" y="515.60" font-size="10" text-anchor="end" fill="#231f20" font-weight="normal" textLength="38.60" lengthAdjust="spacingAndGlyphs" >1500,000</text>
<line x1="453.10" y1="529.30" x2="456.60" y2="529.30" stroke="#231f20" stroke-width="1.0" />
<text x="448.80" y="532.70" font-size="10" text-anchor="end" fill="#231f20" font-weight="normal" textLength="38.60" lengthAdjust="spacingAndGlyphs" >1000,000</text>
<line x1="453.10" y1="546.30" x2="456.60" y2="546.30" stroke="#231f20" stroke-width="1.0" />
<text x="448.80" y="549.70" font-size="10" text-anchor="end" fill="#231f20" font-weight="normal" textLength="33.60" lengthAdjust="spacingAndGlyphs" >500,000</text>
<text x="448.80" y="566.80" font-size="10" text-anchor="end" fill="#231f20" font-weight="normal" textLength="5.17" lengthAdjust="spacingAndGlyphs" >0</text>
<rect x="464.70" y="555.00" width="7.00" height="8.60" fill="#104a84" />
<line x1="468.20" y1="555.00" x2="468.20" y2="549.90" stroke="#333" stroke-width="1.25" />
<line x1="465.62" y1="549.90" x2="470.78" y2="549.90" stroke="#2a2a2a" stroke-width="1.35" />
<rect x="474.00" y="539.90" width="6.80" height="23.70" fill="#b5b5b5" />
<line x1="477.40" y1="539.90" x2="477.40" y2="529.40" stroke="#333" stroke-width="1.25" />
<line x1="474.87" y1="529.40" x2="479.93" y2="529.40" stroke="#2a2a2a" stroke-width="1.35" />
<rect x="482.60" y="559.90" width="6.70" height="3.70" fill="#2aa6dc" />
<line x1="485.95" y1="559.90" x2="485.95" y2="559.20" stroke="#333" stroke-width="1.25" />
<line x1="483.44" y1="559.20" x2="488.46" y2="559.20" stroke="#2a2a2a" stroke-width="1.35" />
<rect x="491.10" y="551.10" width="7.00" height="12.50" fill="#8c7ec0" />
<line x1="494.60" y1="551.10" x2="494.60" y2="546.40" stroke="#333" stroke-width="1.25" />
<line x1="492.02" y1="546.40" x2="497.18" y2="546.40" stroke="#2a2a2a" stroke-width="1.35" />
<path d="M487.30,552.80 V536.40 H494.60 V544.60" fill="none" stroke="#222" stroke-width="1.15" stroke-dasharray="2.5,1.7"/>
<text x="490.70" y="537.22" font-size="9.5" text-anchor="middle" fill="#2a2a2a" font-weight="bold" >*</text>
<text x="460.00" y="576.30" font-size="9.6" text-anchor="start" fill="#231f20" font-weight="normal" textLength="42.60" lengthAdjust="spacingAndGlyphs" >Monocytes</text>
<text x="477.50" y="593.90" font-size="8.4" text-anchor="start" fill="#231f20" font-weight="normal" textLength="10.00" lengthAdjust="spacingAndGlyphs" >(v)</text>
<line x1="458.30" y1="610.00" x2="458.30" y2="665.10" stroke="#231f20" stroke-width="1.2" />
<line x1="457.70" y1="664.50" x2="506.90" y2="664.50" stroke="#231f20" stroke-width="1.25" />
<line x1="454.80" y1="613.00" x2="458.30" y2="613.00" stroke="#231f20" stroke-width="1.0" />
<text x="450.90" y="616.40" font-size="10" text-anchor="end" fill="#231f20" font-weight="normal" textLength="47.40" lengthAdjust="spacingAndGlyphs" >15,000,000</text>
<line x1="454.80" y1="630.20" x2="458.30" y2="630.20" stroke="#231f20" stroke-width="1.0" />
<text x="450.90" y="633.60" font-size="10" text-anchor="end" fill="#231f20" font-weight="normal" textLength="47.40" lengthAdjust="spacingAndGlyphs" >10,000,000</text>
<line x1="454.80" y1="647.40" x2="458.30" y2="647.40" stroke="#231f20" stroke-width="1.0" />
<text x="450.90" y="650.80" font-size="10" text-anchor="end" fill="#231f20" font-weight="normal" textLength="39.40" lengthAdjust="spacingAndGlyphs" >5000,000</text>
<text x="450.90" y="667.90" font-size="10" text-anchor="end" fill="#231f20" font-weight="normal" textLength="5.17" lengthAdjust="spacingAndGlyphs" >0</text>
<rect x="466.10" y="639.50" width="6.80" height="25.00" fill="#104a84" />
<line x1="469.50" y1="639.50" x2="469.50" y2="636.90" stroke="#333" stroke-width="1.25" />
<line x1="466.97" y1="636.90" x2="472.03" y2="636.90" stroke="#2a2a2a" stroke-width="1.35" />
<rect x="474.40" y="624.40" width="6.80" height="40.10" fill="#b5b5b5" />
<line x1="477.80" y1="624.40" x2="477.80" y2="616.70" stroke="#333" stroke-width="1.25" />
<line x1="475.27" y1="616.70" x2="480.33" y2="616.70" stroke="#2a2a2a" stroke-width="1.35" />
<rect x="482.10" y="638.70" width="6.90" height="25.80" fill="#2aa6dc" />
<line x1="485.55" y1="638.70" x2="485.55" y2="635.50" stroke="#333" stroke-width="1.25" />
<line x1="482.99" y1="635.50" x2="488.11" y2="635.50" stroke="#2a2a2a" stroke-width="1.35" />
<rect x="491.10" y="635.70" width="6.80" height="28.80" fill="#8c7ec0" />
<line x1="494.50" y1="635.70" x2="494.50" y2="631.50" stroke="#333" stroke-width="1.25" />
<line x1="491.97" y1="631.50" x2="497.03" y2="631.50" stroke="#2a2a2a" stroke-width="1.35" />
<path d="M469.60,623.20 V607.40 H477.10 V609.50" fill="none" stroke="#222" stroke-width="1.15" stroke-dasharray="2.5,1.7"/>
<text x="473.20" y="608.12" font-size="9.5" text-anchor="middle" fill="#2a2a2a" font-weight="bold" >*</text>
<text x="457.70" y="678.60" font-size="10.4" text-anchor="start" fill="#231f20" font-weight="normal" textLength="50.60" lengthAdjust="spacingAndGlyphs" >Granulocytes</text>
<rect x="258.80" y="629.80" width="6.60" height="6.00" fill="#104a84" />
<rect x="258.80" y="643.40" width="6.60" height="6.00" fill="#2aa6dc" />
<rect x="329.40" y="629.60" width="6.80" height="6.00" fill="#b5b5b5" />
<rect x="329.40" y="643.20" width="6.80" height="6.00" fill="#8c7ec0" />
<text x="270.00" y="635.60" font-size="9.2" text-anchor="start" fill="#231f20" font-weight="normal" textLength="43.80" lengthAdjust="spacingAndGlyphs" >Myb++ 2m</text>
<text x="270.00" y="649.40" font-size="9.2" text-anchor="start" fill="#231f20" font-weight="normal" textLength="48.80" lengthAdjust="spacingAndGlyphs" >Myb++ 12m</text>
<text x="340.80" y="635.60" font-size="9.2" text-anchor="start" fill="#231f20" font-weight="normal" textLength="42.60" lengthAdjust="spacingAndGlyphs" >Myb+F 2m</text>
<text x="340.80" y="649.30" font-size="9.2" text-anchor="start" fill="#231f20" font-weight="normal" textLength="47.70" lengthAdjust="spacingAndGlyphs" >Myb+F 12m</text>
</svg>
</body></html>
